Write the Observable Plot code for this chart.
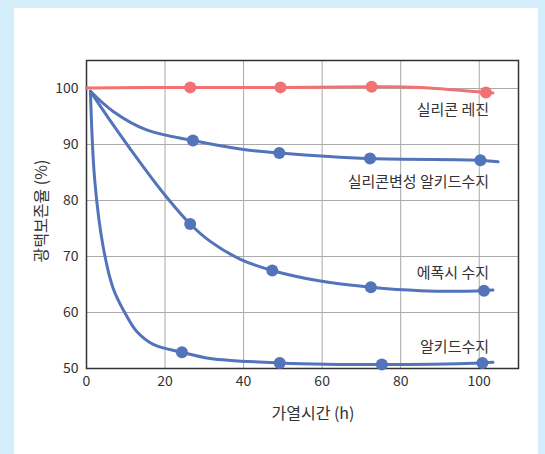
<!DOCTYPE html>
<html><head><meta charset="utf-8">
<script src="https://cdn.jsdelivr.net/npm/d3@7"></script>
<script src="https://cdn.jsdelivr.net/npm/@observablehq/plot@0.6"></script>
<style>
html,body{margin:0;padding:0;background:#d3eefa;width:545px;height:454px;overflow:hidden;}
#panel{position:absolute;left:14px;top:8px;width:524px;height:446px;background:#fff;}
#panel svg{display:block;}
</style></head>
<body><div id="panel"></div>
<script>
const xTicks = [0, 20, 40, 60, 80, 100];
const yTicks = [50, 60, 70, 80, 90, 100];

// marker data
const resinX = [26.4, 49.4, 72.6, 101.7];
const resinY = [100.2, 100.2, 100.3, 99.3];
const smaX = [27.1, 49.1, 72.2, 100.3];
const smaY = [90.7, 88.5, 87.5, 87.2];
const epoxyX = [26.4, 47.3, 72.4, 101.2];
const epoxyY = [75.8, 67.5, 64.5, 63.9];
const alkydX = [24.3, 49.2, 75.2, 100.8];
const alkydY = [52.9, 51.0, 50.7, 51.0];

// curve traces
const resinLineX = [0, 26.4, 49.4, 72.6, 85, 101.7, 103.5];
const resinLineY = [100.1, 100.2, 100.2, 100.3, 100.2, 99.3, 99.2];
const smaLineX = [1, 6.8, 15.3, 27.1, 40, 49.1, 72.2, 100.3, 104.8];
const smaLineY = [99.5, 95.9, 92.6, 90.7, 89.1, 88.5, 87.5, 87.2, 86.9];
const epoxyLineX = [1, 6.8, 12.8, 19.6, 26.4, 31.5, 39.2, 47.3, 58.8, 72.4, 85, 101.2, 103.5];
const epoxyLineY = [99.5, 93.5, 87.6, 81.3, 75.8, 72.7, 69.5, 67.5, 65.7, 64.5, 63.9, 63.9, 64.0];
const alkydLineX = [1, 2.1, 4.25, 6.8, 10.2, 12.8, 17, 24.3, 31.5, 49.2, 75.2, 100.8, 103.5];
const alkydLineY = [99.5, 83.6, 71.7, 64.3, 59.4, 56.6, 54.3, 52.9, 51.8, 51.0, 50.7, 51.0, 51.1];

const labelNames = ["실리콘 레진", "실리콘변성 알키드수지", "에폭시 수지", "알키드수지"];
const labelX = [102.5, 102.5, 102.5, 102.5];
const labelY = [96.1, 83.3, 67.0, 53.8];

const zip = (xs, ys) => xs.map((x, i) => ({x, y: ys[i]}));
const RED = "#f07272", BLUE = "#5373ba";
const font = "'Noto Sans CJK KR', 'Noto Sans', sans-serif";

const blueLines = [[smaLineX, smaLineY], [epoxyLineX, epoxyLineY], [alkydLineX, alkydLineY]];
const blueDots = [[smaX, smaY], [epoxyX, epoxyY], [alkydX, alkydY]];

const chart = Plot.plot({
  width: 524, height: 446,
  marginLeft: 72, marginRight: 20, marginTop: 52, marginBottom: 86,
  style: {fontFamily: font, fontSize: "14px", color: "#333", background: "#fff", overflow: "visible"},
  x: {domain: [0, 110], ticks: xTicks, label: null, tickSize: 0, tickPadding: 6},
  y: {domain: [50, 105], ticks: yTicks, label: null, tickSize: 0, tickPadding: 6},
  marks: [
    Plot.gridX(xTicks.slice(1), {stroke: "#aaa", strokeOpacity: 1, strokeWidth: 1}),
    Plot.gridY(yTicks.slice(1), {stroke: "#aaa", strokeOpacity: 1, strokeWidth: 1}),
    Plot.frame({stroke: "#333", strokeWidth: 1.5}),
    Plot.axisX({ticks: xTicks, tickSize: 0, tickPadding: 8, fontSize: 14, fill: "#333"}),
    Plot.axisY({ticks: yTicks, tickSize: 0, tickPadding: 8, fontSize: 14, fill: "#333"}),
    Plot.line(zip(resinLineX, resinLineY), {x: "x", y: "y", stroke: RED, strokeWidth: 3, curve: "catmull-rom"}),
    ...blueLines.map(([xs, ys]) => Plot.line(zip(xs, ys), {x: "x", y: "y", stroke: BLUE, strokeWidth: 3, curve: "catmull-rom"})),
    Plot.dot(zip(resinX, resinY), {x: "x", y: "y", r: 6, fill: RED}),
    ...blueDots.map(([xs, ys]) => Plot.dot(zip(xs, ys), {x: "x", y: "y", r: 6, fill: BLUE})),
    Plot.text(labelNames.map((t, i) => ({t, x: labelX[i], y: labelY[i]})), {x: "x", y: "y", text: "t", textAnchor: "end", fontSize: 15, fill: "#333"})
  ]
});

const svg = d3.select(chart);
// axis titles
svg.append("text").attr("x", 299).attr("y", 407).attr("text-anchor", "middle")
  .attr("dominant-baseline", "middle").style("font-size", "16px").style("font-family", font).attr("fill", "#333")
  .text("가열시간 (h)");
svg.append("text").attr("transform", "translate(29,203) rotate(-90)").attr("text-anchor", "middle")
  .attr("dominant-baseline", "middle").style("font-size", "16px").style("font-family", font).attr("fill", "#333")
  .text("광택보존율 (%)");

document.getElementById("panel").appendChild(chart);
</script>
</body></html>
